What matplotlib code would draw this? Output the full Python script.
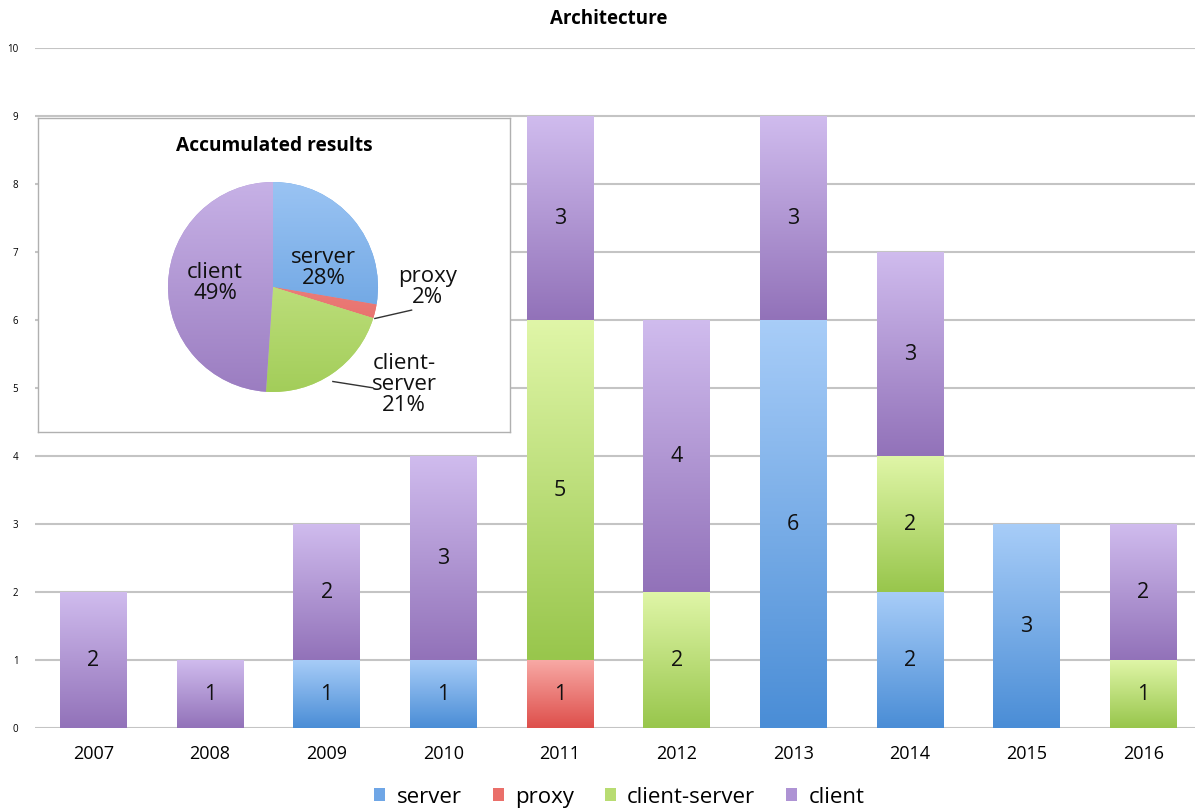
import numpy as np
import matplotlib
matplotlib.use('Agg')
import matplotlib.pyplot as plt
from matplotlib.patches import Patch
from matplotlib.colors import LinearSegmentedColormap

plt.rcParams['font.family'] = ['Open Sans', 'DejaVu Sans']

# data
years = ['2007', '2008', '2009', '2010', '2011', '2012', '2013', '2014', '2015', '2016']
series = ['server', 'proxy', 'client-server', 'client']
server = [0, 0, 1, 1, 0, 0, 6, 2, 3, 0]
proxy = [0, 0, 0, 0, 1, 0, 0, 0, 0, 0]
client_server = [0, 0, 0, 0, 5, 2, 0, 2, 0, 1]
client = [2, 1, 2, 3, 3, 4, 3, 3, 0, 2]
values = [server, proxy, client_server, client]

# (top colour, bottom colour) for the gradient fills
grad = {
    'server': ('#a8cdf8', '#4a8dd6'),
    'proxy': ('#f8aaa6', '#de4f4b'),
    'client-server': ('#e0f6a8', '#98c64c'),
    'client': ('#d0bcee', '#9272b9'),
}
mid = {'server': '#6fa6e6', 'proxy': '#ea6f6a', 'client-server': '#b8dc72', 'client': '#ae93d4'}

fig = plt.figure(figsize=(11.98, 8.11), dpi=100)
ax = fig.add_axes([0.0292, 0.1023, 0.968, 0.8385])

def fill_gradient(axis, patch, name, extent=None, lo=0.0, hi=1.0):
    c = LinearSegmentedColormap.from_list(name, [grad[name][1], grad[name][0]])
    cmap = LinearSegmentedColormap.from_list(name + '_s', [c(lo), c(hi)])
    g = np.linspace(0, 1, 128).reshape(-1, 1)
    if extent is None:
        bb = patch.get_bbox()
        extent = [bb.x0, bb.x1, bb.y0, bb.y1]
    im = axis.imshow(g, extent=extent, origin='lower', aspect='auto', cmap=cmap,
                     zorder=patch.get_zorder() + 0.1, interpolation='bilinear')
    im.set_clip_path(patch)

x = np.arange(len(years))
bottom = np.zeros(len(years))
for name, vals in zip(series, values):
    vals = np.array(vals)
    bars = ax.bar(x, vals, 0.57, bottom=bottom, color=mid[name], zorder=3, linewidth=0)
    for b, v in zip(bars, vals):
        if v > 0:
            fill_gradient(ax, b, name)
            ax.text(b.get_x() + b.get_width() / 2, b.get_y() + v / 2, str(v),
                    ha='center', va='center', fontsize=15.5, color='#111111', zorder=5)
    bottom += vals

ax.set_xlim(-0.5, 9.44)
ax.set_ylim(0, 10)
ax.set_yticks(range(11))
ax.set_xticks(x)
ax.set_xticklabels(years, fontsize=13)
ax.tick_params(axis='y', labelsize=7, length=0, pad=12)
ax.tick_params(axis='x', length=0, pad=12)
ax.yaxis.grid(True, color='#c4c4c4', linewidth=1.5, zorder=0)
ax.set_axisbelow(True)
for s in ax.spines.values():
    s.set_visible(False)
fig.text(0.5085, 0.976, 'Architecture', ha='center', va='center', fontsize=13.5, fontweight='bold')

handles = [Patch(facecolor=mid[n], edgecolor='none') for n in series]
fig.legend(handles, series, loc='center', bbox_to_anchor=(0.517, 0.017), ncol=4, frameon=False,
           fontsize=16, handlelength=0.5, handleheight=0.5, handletextpad=0.5, columnspacing=1.4)

# inset with the accumulated pie
box = fig.add_axes([0.0317, 0.467, 0.394, 0.388])
box.set_xticks([])
box.set_yticks([])
for s in box.spines.values():
    s.set_color('#b0b0b0')
    s.set_linewidth(1.0)
box.text(0.5, 0.91, 'Accumulated results', transform=box.transAxes, ha='center', va='center',
         fontsize=13.8, fontweight='bold')

pax = fig.add_axes([168 / 1198, (811 - 392) / 811, 210 / 1198, 210 / 811])
totals = [sum(v) for v in values]
wedges, _ = pax.pie(totals, startangle=90, counterclock=False, radius=1,
                    colors=[mid[n] for n in series], wedgeprops=dict(linewidth=0))
for w, n in zip(wedges, series):
    fill_gradient(pax, w, n, extent=[-1, 1, -1, 1], lo=0.15, hi=0.85)
pax.set_xlim(-1, 1)
pax.set_ylim(-1, 1)
pax.set_aspect('equal')
pax.axis('off')

pct = [round(100 * t / sum(totals)) for t in totals]
lab = dict(fontsize=16, ha='center', va='center', color='#111111', zorder=10, linespacing=1.0)
pax.text(0.48, 0.18, 'server\n%d%%' % pct[0], **lab)
pax.text(-0.55, 0.04, 'client\n%d%%' % pct[3], **lab)
pax.text(1.47, 0.0, 'proxy\n%d%%' % pct[1], clip_on=False, **lab)
pax.text(1.25, -0.93, 'client-\nserver\n%d%%' % pct[2], clip_on=False, **lab)
pax.plot([0.97, 1.32], [-0.3, -0.22], color='#333333', lw=1, clip_on=False, zorder=10)
pax.plot([0.57, 0.95], [-0.9, -0.96], color='#333333', lw=1, clip_on=False, zorder=10)

fig.savefig('out.png', dpi=100)
